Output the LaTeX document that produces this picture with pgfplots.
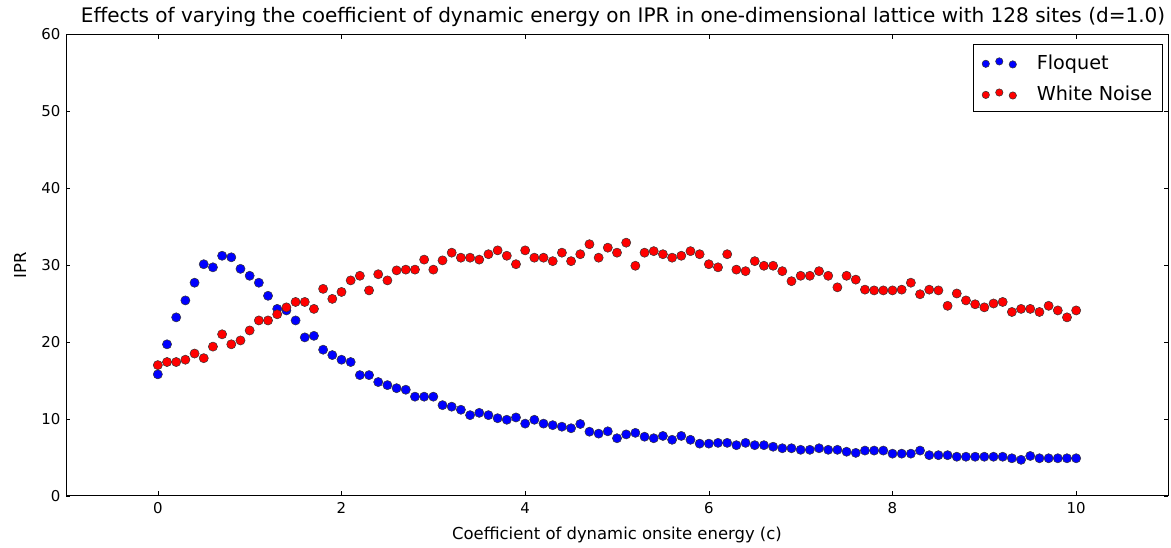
\documentclass[border=0pt]{standalone}
\usepackage{pgfplots}
\pgfplotsset{compat=1.18}
\usepackage{pgfplotstable}
\usepackage{fontspec}
\setmainfont{DejaVu Sans}
\pgfplotstableread{
c F W
0.0 15.8 17.0
0.1 19.7 17.4
0.2 23.2 17.4
0.3 25.4 17.7
0.4 27.7 18.5
0.5 30.1 17.9
0.6 29.7 19.4
0.7 31.2 21.0
0.8 31.0 19.7
0.9 29.5 20.2
1.0 28.6 21.5
1.1 27.7 22.8
1.2 26.0 22.8
1.3 24.3 23.6
1.4 24.1 24.5
1.5 22.8 25.2
1.6 20.6 25.2
1.7 20.8 24.3
1.8 19.0 26.9
1.9 18.3 25.6
2.0 17.7 26.5
2.1 17.4 28.0
2.2 15.7 28.6
2.3 15.7 26.7
2.4 14.8 28.8
2.5 14.4 28.0
2.6 14.0 29.3
2.7 13.8 29.4
2.8 12.9 29.4
2.9 12.9 30.7
3.0 12.9 29.4
3.1 11.8 30.6
3.2 11.6 31.6
3.3 11.2 30.95
3.4 10.5 30.95
3.5 10.8 30.7
3.6 10.5 31.4
3.7 10.1 31.9
3.8 9.9 31.2
3.9 10.2 30.1
4.0 9.4 31.9
4.1 9.9 30.95
4.2 9.4 30.95
4.3 9.2 30.5
4.4 9.0 31.6
4.5 8.8 30.5
4.6 9.35 31.4
4.7 8.35 32.7
4.8 8.1 30.95
4.9 8.4 32.25
5.0 7.5 31.6
5.1 8.0 32.9
5.2 8.2 29.9
5.3 7.7 31.6
5.4 7.5 31.8
5.5 7.8 31.4
5.6 7.3 30.95
5.7 7.8 31.2
5.8 7.3 31.8
5.9 6.8 31.4
6.0 6.8 30.1
6.1 6.9 29.7
6.2 6.9 31.4
6.3 6.6 29.4
6.4 6.9 29.2
6.5 6.6 30.5
6.6 6.6 29.9
6.7 6.4 29.9
6.8 6.2 29.2
6.9 6.2 27.9
7.0 6.0 28.6
7.1 6.0 28.6
7.2 6.2 29.2
7.3 6.0 28.6
7.4 6.0 27.1
7.5 5.75 28.6
7.6 5.6 28.1
7.7 5.9 26.8
7.8 5.9 26.7
7.9 5.9 26.7
8.0 5.5 26.7
8.1 5.5 26.8
8.2 5.5 27.7
8.3 5.9 26.2
8.4 5.3 26.8
8.5 5.3 26.7
8.6 5.3 24.7
8.7 5.1 26.3
8.8 5.1 25.4
8.9 5.1 24.9
9.0 5.1 24.5
9.1 5.1 25.0
9.2 5.1 25.2
9.3 4.9 23.9
9.4 4.7 24.3
9.5 5.2 24.3
9.6 4.9 23.9
9.7 4.9 24.7
9.8 4.9 24.1
9.9 4.9 23.2
10.0 4.9 24.1
}\data
\definecolor{mblue}{RGB}{0,0,255}
\definecolor{mred}{RGB}{255,0,0}
\begin{document}
\begin{tikzpicture}
\useasboundingbox (0,0) rectangle (1171bp,548bp);
\begin{axis}[
  at={(66bp,52bp)}, anchor=south west,
  scale only axis, width=1102bp, height=462bp,
  xmin=-1, xmax=11, ymin=0, ymax=60,
  xtick={0,2,...,10}, ytick={0,10,...,60},
  tick align=inside, major tick length=4.5bp,
  tick style={black, line width=0.6bp},
  axis line style={line width=1bp},
  ticklabel style={font=\fontsize{15}{17}\selectfont},
  /pgf/number format/assume math mode=true,
  xticklabel style={yshift=-3bp},
  yticklabel style={xshift=-2bp},
  every axis title shift=0pt,
  title={Effects of varying the coefficient of dynamic energy on IPR in one-dimensional lattice with 128 sites (d=1.0)},
  title style={font=\fontsize{20.1}{22}\selectfont, at={(axis description cs:0.5055,1.037)}, anchor=center},
  xlabel={Coefficient of dynamic onsite energy (c)},
  ylabel={IPR},
  label style={font=\fontsize{16.5}{19}\selectfont},
  xlabel style={at={(axis description cs:0.5,-0.0844)}, anchor=center},
  ylabel style={at={(axis description cs:-0.0417,0.5)}, anchor=center},
  legend style={at={(0.9955,0.978)}, anchor=north east, draw=black, line width=0.8bp,
    font=\fontsize{19.3}{22}\selectfont, row sep=11bp, inner xsep=8.5bp, inner ysep=8bp},
  legend cell align=left,
  legend image code/.code={
    \path[draw=none, fill=none] (-3.6bp,0bp) rectangle (49bp,0.1bp);
    \draw[#1, mark size=3.7bp] plot[only marks] coordinates {(0bp,-1.2bp) (13.5bp,1.2bp) (27bp,-1.8bp)};
  },
]
\addplot[only marks, mark=*, mark size=4.6bp, mark options={fill=mblue, draw=black!80, line width=0.5bp}] table[x=c, y=F] {\data};
\addlegendentry{Floquet}
\addplot[only marks, mark=*, mark size=4.6bp, mark options={fill=mred, draw=black!80, line width=0.5bp}] table[x=c, y=W] {\data};
\addlegendentry{White Noise}
\end{axis}
\end{tikzpicture}
\end{document}
